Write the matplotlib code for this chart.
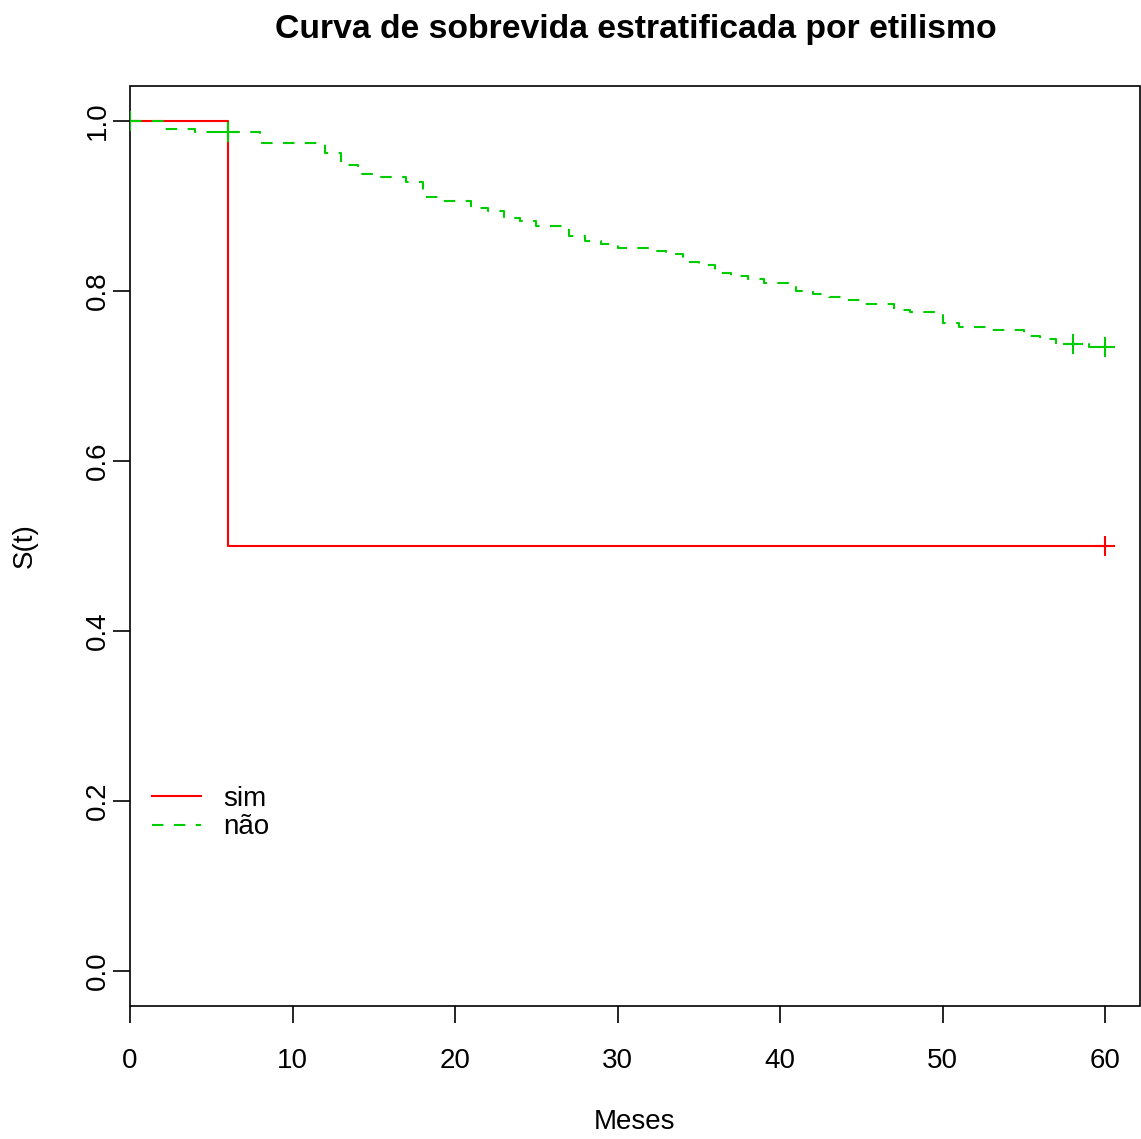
import matplotlib
matplotlib.use("Agg")
import matplotlib.pyplot as plt

plt.rcParams['font.family'] = ['Liberation Sans', 'DejaVu Sans']

# curva "sim" (etilista)
sim_tempo = [0, 6, 60]
sim_surv = [1.0, 0.5, 0.5]
sim_cens_t = [60]
sim_cens_s = [0.5]

# curva "não"
nao_tempo = [0, 2, 4, 8, 12, 13, 14, 15, 17, 18, 19, 21, 22, 23, 24, 25, 27, 28,
             29, 30, 32, 33, 34, 35, 36, 37, 38, 39, 41, 42, 43, 44, 45, 47, 48,
             50, 51, 53, 55, 56, 57, 59, 60]
nao_surv = [1.0, 0.991, 0.987, 0.974, 0.962, 0.948, 0.938, 0.934, 0.928, 0.911,
            0.906, 0.898, 0.894, 0.886, 0.882, 0.876, 0.865, 0.859, 0.855, 0.851,
            0.847, 0.843, 0.834, 0.830, 0.821, 0.818, 0.814, 0.809, 0.800, 0.796,
            0.793, 0.789, 0.785, 0.778, 0.775, 0.762, 0.758, 0.754, 0.747, 0.743,
            0.738, 0.734, 0.734]
nao_cens_t = [0, 6, 58, 60]
nao_cens_s = [1.0, 0.987, 0.738, 0.734]

red = "#FF0000"
green = "#00CD00"

W, H = 1141, 1139
fig = plt.figure(figsize=(W / 100, H / 100), dpi=100)
ax = fig.add_axes([130 / W, 1 - 1006 / H, 1010 / W, 920 / H])

ax.step(sim_tempo, sim_surv, where="post", color=red, lw=1.5, label="sim")
ax.plot(sim_cens_t, sim_cens_s, "+", color=red, ms=14, mew=1.5)

ax.step(nao_tempo, nao_surv, where="post", color=green, lw=1.5,
        dashes=(5.5, 5), label="não")
ax.plot(nao_cens_t, nao_cens_s, "+", color=green, ms=14, mew=1.5)

ax.set_xlim(0, 62.15)
ax.set_ylim(-0.041, 1.041)
ax.set_xticks(range(0, 61, 10))
ax.set_yticks([0.0, 0.2, 0.4, 0.6, 0.8, 1.0])
ax.set_yticklabels(["0.0", "0.2", "0.4", "0.6", "0.8", "1.0"], rotation=90,
                   va="center")
ax.tick_params(labelsize=20, length=12, width=1.2, color="black")
ax.tick_params(axis="x", pad=18)
ax.tick_params(axis="y", pad=2)

for s in ax.spines.values():
    s.set_visible(False)

# caixa do gráfico (box) como no R
ax.add_patch(plt.Rectangle((0, 0), 1, 1, transform=ax.transAxes, fill=False,
                           lw=1.2, ec="black", clip_on=False))

ax.set_xlabel("Meses", fontsize=20)
ax.set_ylabel("S(t)", fontsize=20)
ax.xaxis.set_label_coords(0.5, -0.112)
ax.yaxis.set_label_coords(-0.091, 0.5)
fig.suptitle("Curva de sobrevida estratificada por etilismo", fontsize=24.3,
             fontweight="bold", x=(130 + 1141) / 2 / W, y=1 - 14 / H, va="top")

ax.legend(loc="lower left", bbox_to_anchor=(0.022, 0.18), frameon=False,
          fontsize=20, handlelength=1.75, handletextpad=0.8, labelspacing=0.1,
          borderpad=0, borderaxespad=0)

fig.savefig("out.png", dpi=100)
